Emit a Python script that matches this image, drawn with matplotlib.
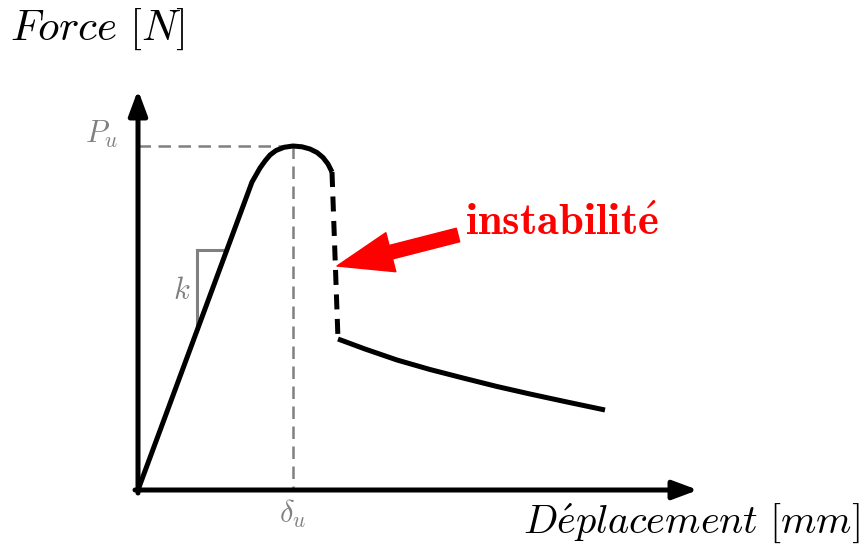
import matplotlib
matplotlib.use("Agg")
import matplotlib.pyplot as plt
import numpy as np

plt.rcParams['mathtext.fontset'] = 'cm'

# ---- data (schematic force-displacement curve) ----
# rising + rounded cap (solid)
disp_pre = [0.00, 1.14, 1.18, 1.22, 1.27, 1.32, 1.38, 1.46, 1.55, 1.64,
            1.72, 1.79, 1.85, 1.90, 1.94]
force_pre = [0.00, 3.08, 3.15, 3.22, 3.29, 3.35, 3.395, 3.427, 3.44, 3.432,
             3.41, 3.375, 3.325, 3.26, 3.18]
# instability drop (dashed)
disp_drop = [1.94, 2.00]
force_drop = [3.18, 1.51]
# post-instability branch (solid)
disp_post = [2.00, 2.27, 2.59, 2.92, 3.25, 3.59, 3.92, 4.29, 4.67]
force_post = [1.51, 1.41, 1.30, 1.205, 1.12, 1.035, 0.96, 0.88, 0.80]

P_u = 3.44
delta_u = 1.55
k_x = 0.59
k_y = 2.40

x_axis_end = 5.60
y_axis_end = 4.00

title_y = r'$Force\ [N]$'
title_x = r'$D\acute{e}placement\ [mm]$'
label_P = r'$P_u$'
label_d = r'$\delta_u$'
label_k = r'$k$'
label_inst = r'$\mathbf{instabilit\acute{e}}$'

# ---- figure ----
fig = plt.figure(figsize=(8.64, 5.45), dpi=100)
ax = fig.add_axes([0, 0, 1, 1])
ax.set_xlim(-1.38, 7.26)
ax.set_ylim(-0.55, 4.90)
ax.axis('off')

gray = '#808080'
lw = 3.6

# guide lines
ax.plot([0, delta_u], [P_u, P_u], color=gray, lw=1.8, ls=(0, (5, 3)), zorder=1)
ax.plot([delta_u, delta_u], [P_u, 0], color=gray, lw=1.8, ls=(0, (5, 3)), zorder=1)

# stiffness triangle
slope = force_pre[1] / disp_pre[1]
ax.plot([k_x, k_y / slope], [k_y, k_y], color=gray, lw=2.2, zorder=1)
ax.plot([k_x, k_x], [k_y, k_x * slope], color=gray, lw=2.2, zorder=1)

# curve
ax.plot(disp_pre, force_pre, color='black', lw=lw, solid_capstyle='butt',
        solid_joinstyle='round', zorder=3)
ax.plot(disp_drop, force_drop, color='black', lw=lw, ls=(0, (3.0, 1.9)),
        dash_capstyle='butt', zorder=3)
ax.plot(disp_post, force_post, color='black', lw=lw, solid_capstyle='butt',
        solid_joinstyle='round', zorder=3)

# axes arrows
ax.annotate('', xy=(0, y_axis_end), xytext=(0, -0.03),
            arrowprops=dict(arrowstyle='-|>,head_length=0.75,head_width=0.28',
                            color='black', lw=lw, shrinkA=0, shrinkB=0,
                            mutation_scale=20), zorder=4)
ax.annotate('', xy=(x_axis_end, 0), xytext=(-0.03, 0),
            arrowprops=dict(arrowstyle='-|>,head_length=0.75,head_width=0.28',
                            color='black', lw=lw, shrinkA=0, shrinkB=0,
                            mutation_scale=20), zorder=4)

# red instability arrow
ax.annotate('', xy=(disp_drop[0] + 0.05, 2.24), xytext=(3.20, 2.55),
            arrowprops=dict(arrowstyle='simple,head_length=4.0,head_width=2.9,tail_width=1.0',
                            color='red', shrinkA=0, shrinkB=0, mutation_scale=10),
            zorder=5)

# labels
ax.text(-1.28, 4.50, title_y, fontsize=31, ha='left', va='baseline')
ax.text(7.22, -0.43, title_x, fontsize=29, ha='right', va='baseline')
ax.text(-0.20, 3.47, label_P, fontsize=22, color=gray, ha='right', va='baseline')
ax.text(0.44, 1.91, label_k, fontsize=22, color=gray, ha='center', va='baseline')
ax.text(delta_u, -0.08, label_d, fontsize=22, color=gray, ha='center', va='top')
ax.text(3.27, 2.55, label_inst, fontsize=32, color='red', ha='left', va='baseline')

fig.savefig('out.png', dpi=100)
